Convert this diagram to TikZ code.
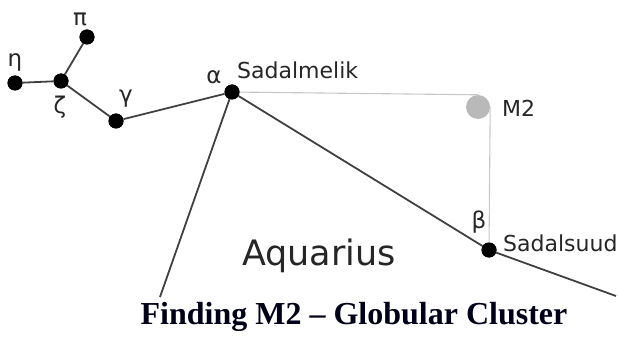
\documentclass[tikz,border=0pt]{standalone}
\usepackage{fontspec}
\setmainfont{Liberation Serif}
\newfontfamily\lblfont{DejaVu Sans}
\begin{document}
\begin{tikzpicture}[x=1pt,y=-1pt,
  star/.style={circle,fill=black,inner sep=0pt,minimum size=15pt},
  cluster/.style={circle,fill=gray!55,inner sep=0pt,minimum size=24pt},
  cline/.style={draw=black!75,line width=1.8pt},
  gline/.style={draw=black!22,line width=1.1pt},
  lbl/.style={font=\lblfont\fontsize{22}{26}\selectfont,text=black!85,inner sep=0pt},
  grk/.style={font=\lblfont\fontsize{23}{27}\selectfont,text=black!85,inner sep=0pt}]
\useasboundingbox (0,0) rectangle (618,339);
% stars
\node[star] (eta) at (15,83) {};
\node[star] (zeta) at (61,81) {};
\node[star] (pi) at (87,37) {};
\node[star] (gamma) at (116,121) {};
\node[star] (alpha) at (232,92) {};
\node[star] (beta) at (489,250) {};
\node[cluster] (m2) at (478,107) {};
\coordinate (sw) at (160,297);
\coordinate (se) at (616,296);
% guide lines
\draw[gline] (alpha.center) -- (m2.north);
\draw[gline] (m2.east) -- (beta.center);
% constellation lines
\draw[cline] (eta) -- (zeta);
\draw[cline] (zeta) -- (pi);
\draw[cline] (zeta) -- (gamma);
\draw[cline] (gamma) -- (alpha);
\draw[cline] (alpha) -- (beta);
\draw[cline] (alpha) -- (sw);
\draw[cline] (beta) -- (se);
% redraw stars on top
\foreach \s in {eta,zeta,pi,gamma,alpha,beta}{\fill (\s) circle (7.5pt);}
% labels
\node[grk] (leta) at (15,62) {η};
\node[grk] (lzeta) at (60,107) {ζ};
\node[grk] (lpi) at (80,19) {π};
\node[grk] (lgamma) at (126,99) {γ};
\node[grk] (lalpha) at (214,77) {α};
\node[grk] (lbeta) at (479,222) {β};
\node[lbl,anchor=base west] (lsad) at (237,79) {Sadalmelik};
\node[lbl,anchor=base west] (lsuud) at (503,251) {Sadalsuud};
\node[lbl,anchor=base west] (lm2) at (502,117) {M2};
\node[font=\lblfont\fontsize{35}{40}\selectfont,text=black!85,inner sep=0pt,anchor=base west] (aq) at (242,265) {Aquarius};
\node[font=\bfseries\fontsize{32}{36}\selectfont,text=black!90!blue,inner sep=0pt,anchor=base] (title) at (354,324) {Finding M2 – Globular Cluster};
\end{tikzpicture}
\end{document}
